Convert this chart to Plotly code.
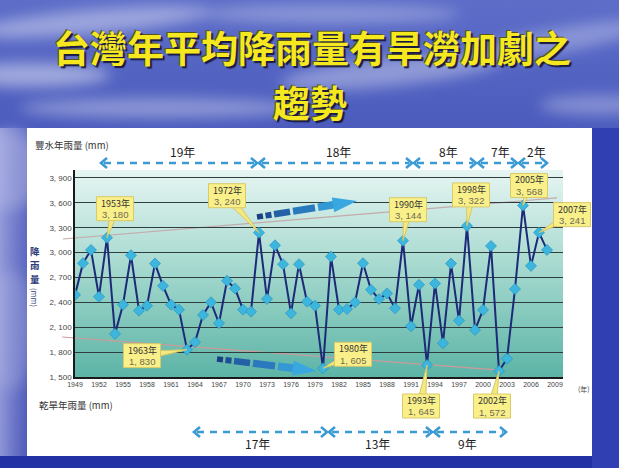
import base64
import math
import plotly.graph_objects as go

# ---------------- data ----------------
years = list(range(1949, 2009))
rain_mm = [2490, 2872, 3032, 2468, 3180, 2020, 2372, 2968, 2300, 2360,
           2868, 2600, 2372, 2312, 1830, 1920, 2248, 2400, 2148, 2660,
           2568, 2312, 2288, 3240, 2440, 3088, 2860, 2268, 2860, 2408,
           2360, 1605, 2952, 2312, 2320, 2400, 2872, 2552, 2440, 2508,
           2328, 3144, 2112, 2612, 1645, 2628, 1908, 2868, 2180, 3322,
           2068, 2308, 3080, 1572, 1720, 2560, 3568, 2840, 3241, 3032]
wet_years = [1953, 1972, 1990, 1998, 2005, 2007]
dry_years = [1963, 1980, 1993, 2002]
x_tick_years = list(range(1949, 2010, 3))
y_tick_values = list(range(1500, 4000, 300))
y_tick_labels = [f"{v // 1000}, {v % 1000:03d}" for v in y_tick_values]
upper_trend_years = [1947.5, 2009.25]
upper_trend_mm = [3164, 3659]
lower_trend_years = [1947.4, 2002.1]
lower_trend_mm = [1982, 1584]

# ---------------- geometry ----------------
FIG_W, FIG_H = 619, 468
PL, PR, PT, PB = 75, 563, 170, 377
PW, PH = PR - PL, PB - PT
X_RANGE = [1949, 2010]
Y_RANGE = [1500, 3996]


def px_x(p):
    return (p - PL) / PW


def px_y(p):
    return (PB - p) / PH


def yr_x(yr):
    return (yr - X_RANGE[0]) / (X_RANGE[1] - X_RANGE[0])


def mm_y(v):
    return (v - Y_RANGE[0]) / (Y_RANGE[1] - Y_RANGE[0])


def poly(pts):
    return "M " + " L ".join(f"{px_x(a):.5f},{px_y(b):.5f}" for a, b in pts) + " Z"


# ---------------- background svg ----------------
svg = f"""<svg xmlns='http://www.w3.org/2000/svg' width='{FIG_W}' height='{FIG_H}' viewBox='0 0 {FIG_W} {FIG_H}' preserveAspectRatio='none'>
<defs>
<linearGradient id='sky' x1='0' y1='0' x2='0' y2='1'>
<stop offset='0' stop-color='#5d6dc8'/>
<stop offset='0.28' stop-color='#4b5bbd'/>
<stop offset='1' stop-color='#2838a8'/>
</linearGradient>
<linearGradient id='side' x1='0' y1='0' x2='1' y2='0'>
<stop offset='0' stop-color='#b0b4e6' stop-opacity='0.75'/>
<stop offset='1' stop-color='#8a90d4' stop-opacity='0.4'/>
</linearGradient>
<linearGradient id='teal' x1='0' y1='0' x2='0' y2='1'>
<stop offset='0' stop-color='#e6f5f2'/>
<stop offset='0.45' stop-color='#a8dad0'/>
<stop offset='1' stop-color='#5cb4a6'/>
</linearGradient>
<filter id='blur' x='-50%' y='-50%' width='200%' height='200%'><feGaussianBlur stdDeviation='7'/></filter>
</defs>
<rect width='{FIG_W}' height='{FIG_H}' fill='url(#sky)'/>
<g filter='url(#blur)' fill='#ffffff'>
<ellipse cx='90' cy='22' rx='120' ry='12' opacity='0.4' transform='rotate(-5 90 22)'/>
<ellipse cx='30' cy='75' rx='80' ry='12' opacity='0.45'/>
<ellipse cx='330' cy='14' rx='130' ry='9' opacity='0.3'/>
<ellipse cx='390' cy='72' rx='110' ry='14' opacity='0.35' transform='rotate(-6 390 72)'/>
<ellipse cx='560' cy='40' rx='90' ry='12' opacity='0.3' transform='rotate(-10 560 40)'/>
<ellipse cx='600' cy='105' rx='60' ry='10' opacity='0.3'/>
<ellipse cx='160' cy='108' rx='140' ry='10' opacity='0.35'/>
<ellipse cx='10' cy='170' rx='30' ry='40' opacity='0.35'/>
<ellipse cx='10' cy='330' rx='25' ry='60' opacity='0.25'/>
</g>
<rect x='0' y='128' width='27' height='340' fill='url(#side)'/>
<rect x='0' y='456' width='{FIG_W}' height='12' fill='#2232a4'/>
<rect x='592' y='128' width='27' height='340' fill='#3040b2'/>
<rect x='27' y='128' width='565' height='328' fill='#ffffff'/>
<rect x='{PL}' y='{PT}' width='{PW}' height='{PH}' fill='url(#teal)'/>
</svg>"""
svg_uri = "data:image/svg+xml;base64," + base64.b64encode(svg.encode("utf-8")).decode("ascii")

CJK = "Noto Sans CJK TC"
NUM_FONT = "Liberation Sans Narrow, Liberation Sans"

fig = go.Figure()

fig.add_trace(go.Scatter(
    x=years, y=rain_mm, mode="lines+markers",
    line=dict(color="#1c2a78", width=2),
    marker=dict(symbol="diamond", size=8.5, color="#3db6de",
                line=dict(color="#1f8cc0", width=0.6)),
    hoverinfo="skip", showlegend=False,
))

shapes = []
shapes.append(dict(type="line", xref="paper", yref="paper",
                   x0=yr_x(upper_trend_years[0]), y0=mm_y(upper_trend_mm[0]),
                   x1=yr_x(upper_trend_years[1]), y1=mm_y(upper_trend_mm[1]),
                   line=dict(color="#c4aaaa", width=1.2), layer="below"))
shapes.append(dict(type="line", xref="paper", yref="paper",
                   x0=yr_x(lower_trend_years[0]), y0=mm_y(lower_trend_mm[0]),
                   x1=yr_x(lower_trend_years[1]), y1=mm_y(lower_trend_mm[1]),
                   line=dict(color="#d09a9a", width=1.2), layer="below"))


def big_arrow(tail, tip, colors):
    tx, ty = tail
    hx, hy = tip
    L = math.hypot(hx - tx, hy - ty)
    ux, uy = (hx - tx) / L, (hy - ty) / L
    nx, ny = -uy, ux
    segs = [(0.00, 0.06, 2.8), (0.085, 0.145, 3.0), (0.17, 0.33, 3.3),
            (0.36, 0.58, 3.6), (0.61, 0.78, 3.9)]
    out = []
    for (a, b, w), c in zip(segs, colors):
        pts = [(tx + ux * a * L + nx * w, ty + uy * a * L + ny * w),
               (tx + ux * b * L + nx * w, ty + uy * b * L + ny * w),
               (tx + ux * b * L - nx * w, ty + uy * b * L - ny * w),
               (tx + ux * a * L - nx * w, ty + uy * a * L - ny * w)]
        out.append(dict(type="path", xref="paper", yref="paper", path=poly(pts),
                        fillcolor=c, line=dict(width=0), layer="above"))
    hb, hw = 0.76, 7.5
    pts = [(tx + ux * hb * L + nx * hw, ty + uy * hb * L + ny * hw),
           (hx, hy),
           (tx + ux * hb * L - nx * hw, ty + uy * hb * L - ny * hw)]
    out.append(dict(type="path", xref="paper", yref="paper", path=poly(pts),
                    fillcolor=colors[-1], line=dict(width=0), layer="above"))
    return out


arrow_cols = ["#1b3f80", "#1e4d92", "#2360a6", "#2a78be", "#3398d4", "#3aa8e0"]
shapes += big_arrow((257, 217), (357, 201), arrow_cols)
shapes += big_arrow((217, 359), (317, 371), arrow_cols)

DASH_C = "#3a9ad4"


def chevron(x, y, direction):
    d = 6 * direction
    path = (f"M {px_x(x - d):.5f},{px_y(y - 5):.5f} L {px_x(x):.5f},{px_y(y):.5f} "
            f"L {px_x(x - d):.5f},{px_y(y + 5):.5f}")
    return dict(type="path", xref="paper", yref="paper", path=path,
                line=dict(color=DASH_C, width=2.6), layer="above")


def period_arrows(stops, y):
    out = []
    for i in range(len(stops) - 1):
        a, b = stops[i], stops[i + 1]
        out.append(dict(type="line", xref="paper", yref="paper",
                        x0=px_x(a + 4), x1=px_x(b - 4), y0=px_y(y), y1=px_y(y),
                        line=dict(color=DASH_C, width=2.4, dash="7px,6px"), layer="above"))
        out.append(chevron(a + 1, y, -1))
        out.append(chevron(b - 1, y, 1))
    return out


wet_stops_px = [100, 258, 413, 477, 518, 548]
dry_stops_px = [193, 328, 433, 507]
ARROW_Y_TOP, ARROW_Y_BOT = 163, 432
shapes += period_arrows(wet_stops_px, ARROW_Y_TOP)
shapes += period_arrows(dry_stops_px, ARROW_Y_BOT)


def label(px, py, text, font, xanchor="center", **kw):
    d = dict(xref="paper", yref="paper", x=px_x(px), y=px_y(py), text=text,
             showarrow=False, xanchor=xanchor, yanchor="middle", font=font)
    d.update(kw)
    return d


annotations = []
for i in range(len(wet_years) - 1):
    mid = (wet_stops_px[i] + wet_stops_px[i + 1]) / 2
    annotations.append(label(mid + 3, 151, f"{wet_years[i + 1] - wet_years[i]}年",
                             dict(family=CJK, size=12, color="#222222")))
for i in range(len(dry_years) - 1):
    mid = (dry_stops_px[i] + dry_stops_px[i + 1]) / 2
    annotations.append(label(mid - 3, 443, f"{dry_years[i + 1] - dry_years[i]}年",
                             dict(family=CJK, size=12, color="#222222")))

# callouts: yellow box + wedge pointer + two text lines
callout_offsets = {1953: (8, -29), 1972: (-32, -37), 1990: (5, -31), 1998: (4, -31),
                   2005: (6, -20), 2007: (33, -18), 1963: (-45, 6), 1980: (30, -14),
                   1993: (-6, 41), 2002: (-7, 35)}
BOX_W, BOX_H = 37, 24
for yr in wet_years + dry_years:
    v = rain_mm[years.index(yr)]
    ptx = PL + yr_x(yr) * PW
    pty = PB - mm_y(v) * PH
    dx, dy = callout_offsets[yr]
    cx, cy = ptx + dx, pty + dy
    L = math.hypot(dx, dy)
    nx, ny = -dy / L, dx / L
    wedge = [(cx + nx * 4.5, cy + ny * 4.5), (ptx, pty), (cx - nx * 4.5, cy - ny * 4.5)]
    shapes.append(dict(type="path", xref="paper", yref="paper", path=poly(wedge),
                       fillcolor="#f4e97e", line=dict(color="#d6c765", width=1), layer="above"))
    shapes.append(dict(type="rect", xref="paper", yref="paper",
                       x0=px_x(cx - BOX_W / 2), x1=px_x(cx + BOX_W / 2),
                       y0=px_y(cy - BOX_H / 2), y1=px_y(cy + BOX_H / 2),
                       fillcolor="#faf08a", line=dict(color="#d9c96a", width=1), layer="above"))
    annotations.append(label(cx, cy - 5.5, f"{yr}年", dict(family=CJK, size=9, color="#333333")))
    annotations.append(label(cx, cy + 6, f"{v // 1000}, {v % 1000:03d}",
                             dict(family=NUM_FONT, size=9.5, color="#6f6a52")))

annotations.append(label(33, 145, "豐水年雨量 (mm)", dict(family=CJK, size=9.5, color="#333333"),
                         xanchor="left"))
annotations.append(label(37, 405, "乾旱年雨量 (mm)", dict(family=CJK, size=9.5, color="#333333"),
                         xanchor="left"))
for ch, yy in zip("降雨量", [251, 265, 279]):
    annotations.append(label(35, yy, ch, dict(family=CJK, size=9.5, color="#2c3a78", weight="bold")))
annotations.append(label(35, 297, "(mm)", dict(family=CJK, size=7.5, color="#2c3a78"), textangle=90))
annotations.append(label(584, 389, "(年)", dict(family=CJK, size=7, color="#444444")))

TITLE_FONT = dict(family=CJK, size=37, color="#f6e81e", weight="bold",
                  shadow="2px 2px 1px #1a1a40, -1px -1px 0px #555520")
annotations.append(label(312, 47, "台灣年平均降雨量有旱澇加劇之", TITLE_FONT))
annotations.append(label(310, 101.5, "趨勢", TITLE_FONT))

fig.update_layout(
    width=FIG_W, height=FIG_H,
    margin=dict(l=PL, r=FIG_W - PR, t=PT, b=FIG_H - PB, pad=0),
    paper_bgcolor="#3f4fb5", plot_bgcolor="rgba(0,0,0,0)",
    images=[dict(source=svg_uri, xref="paper", yref="paper",
                 x=px_x(0), y=px_y(0), sizex=FIG_W / PW, sizey=FIG_H / PH,
                 xanchor="left", yanchor="top", sizing="stretch", layer="below")],
    xaxis=dict(range=X_RANGE, tickvals=x_tick_years, ticktext=[str(y) for y in x_tick_years],
               showgrid=False, zeroline=False, showline=True, linecolor="#1a1a1a", linewidth=2,
               ticks="", tickfont=dict(family=NUM_FONT, size=7, color="#444444"),
               fixedrange=True),
    yaxis=dict(range=Y_RANGE, tickvals=y_tick_values, ticktext=y_tick_labels,
               showgrid=True, gridcolor="#2e3d3d", gridwidth=1.2, zeroline=False,
               showline=True, linecolor="#1a1a1a", linewidth=1.5, ticks="",
               tickfont=dict(family=NUM_FONT, size=8, color="#444444"),
               fixedrange=True),
    shapes=shapes, annotations=annotations,
    showlegend=False,
)

fig.write_html("out.html", config={"displayModeBar": False})
